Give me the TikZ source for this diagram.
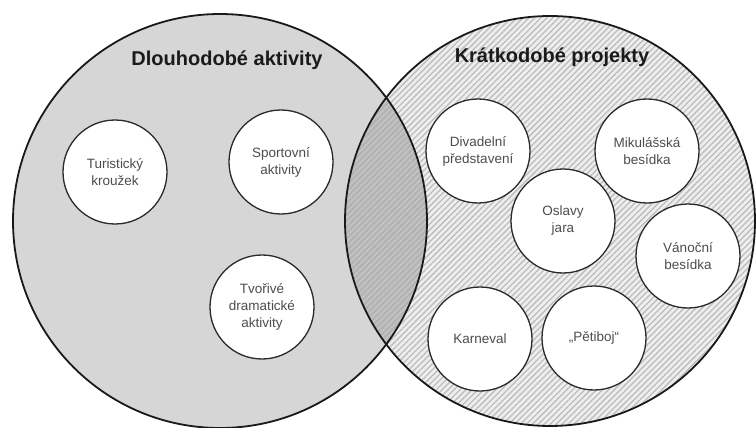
\documentclass[tikz,border=0pt]{standalone}
\usepackage{fontspec}
\setmainfont{Liberation Sans}
\usetikzlibrary{patterns.meta}
\definecolor{leftfill}{HTML}{D6D6D6}
\definecolor{rightbg}{HTML}{EEEEEE}
\definecolor{hatch}{HTML}{BDBDBD}
\definecolor{lensfill}{HTML}{B4B4B4}
\definecolor{lenshatch}{HTML}{C6C6C6}
\definecolor{bubline}{HTML}{2A2A2A}
\definecolor{txtgray}{HTML}{4D4D4D}
\definecolor{titlecol}{HTML}{1A1A1A}
\tikzset{
  bub/.style={circle, draw=bubline, line width=1.3pt, fill=white, minimum size=104pt,
    inner sep=0pt, align=center, font=\fontsize{13.5}{17}\selectfont, text=txtgray},
  settitle/.style={anchor=base, font=\bfseries\fontsize{20}{24}\selectfont, text=titlecol},
  outline/.style={draw=black!90, line width=1.8pt},
  stripes/.style={pattern={Lines[angle=45,distance=4.2pt,line width=1.3pt]}}
}
\begin{document}
\begin{tikzpicture}[x=1pt,y=-1pt]
\useasboundingbox (0,0) rectangle (756,428);
\fill[white] (0,0) rectangle (756,428);
\coordinate (L) at (220,221);
\coordinate (R) at (550,221);
\fill[leftfill] (L) circle[radius=207pt];
\fill[rightbg] (R) circle[radius=205pt];
\fill[stripes, pattern color=hatch] (R) circle[radius=205pt];
\begin{scope}
  \clip (L) circle[radius=207pt];
  \fill[lensfill] (R) circle[radius=205pt];
  \fill[stripes, pattern color=lenshatch] (R) circle[radius=205pt];
\end{scope}
\draw[outline] (L) circle[radius=207pt];
\draw[outline] (R) circle[radius=205pt];

\node[settitle] (tl) at (227,66) {Dlouhodobé aktivity};
\node[settitle] (tr) at (552,63) {Krátkodobé projekty};

\node[bub] (tur) at (115,172) {Turistický\\kroužek};
\node[bub] (spo) at (281,162) {Sportovní\\aktivity};
\node[bub] (tvo) at (262,307) {Tvořivé\\dramatické\\aktivity};
\node[bub] (div) at (478,151) {Divadelní\\představení};
\node[bub] (mik) at (647,151) {Mikulášská\\besídka};
\node[bub] (osl) at (563,221) {Oslavy\\jara};
\node[bub] (van) at (688,256) {Vánoční\\besídka};
\node[bub] (kar) at (480,339) {Karneval};
\node[bub] (pet) at (594,338) {„Pětiboj“};
\end{tikzpicture}
\end{document}
